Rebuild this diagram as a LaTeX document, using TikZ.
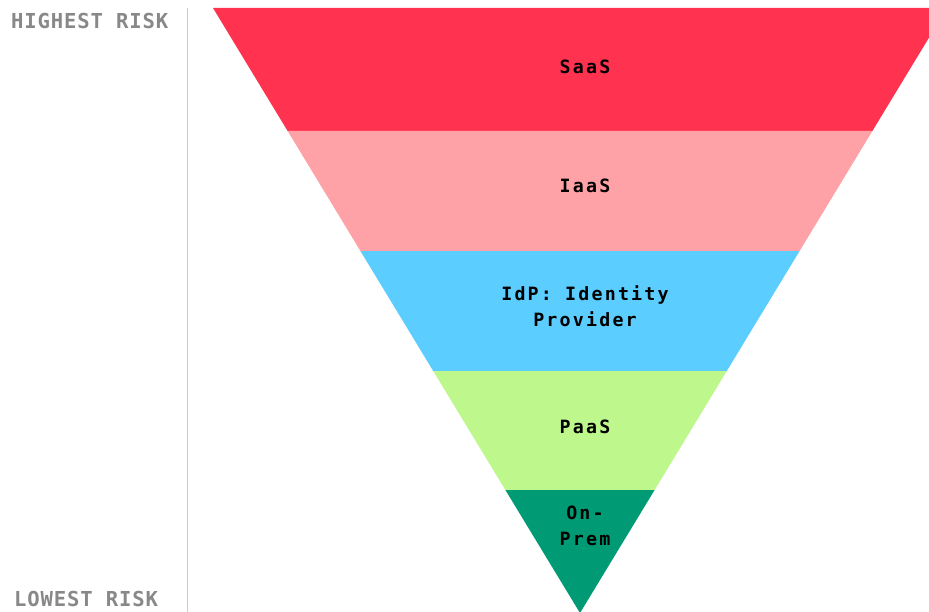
\documentclass[tikz,border=0pt]{standalone}
\usepackage{fontspec}
\usetikzlibrary{calc}
\newfontfamily\bandfont[LetterSpace=12]{DejaVu Sans Mono Bold}
\newfontfamily\sidefont[LetterSpace=4]{DejaVu Sans Mono Bold}
\definecolor{saas}{HTML}{FF334F}
\definecolor{iaas}{HTML}{FFA2A8}
\definecolor{idp}{HTML}{5BCDFF}
\definecolor{paas}{HTML}{BEF78B}
\definecolor{onprem}{HTML}{009B74}
\definecolor{sidegray}{HTML}{888888}
\definecolor{axisgray}{HTML}{CCCCCC}
\tikzset{
  bandlabel/.style={font=\bandfont\fontsize{18.3}{26}\selectfont, text=black, align=center, inner sep=0pt},
  sidelabel/.style={font=\sidefont\fontsize{20.6}{24}\selectfont, text=sidegray, inner sep=0pt, text depth=0pt},
}
\begin{document}
\begin{tikzpicture}[x=1pt,y=-1pt]
\useasboundingbox (0,0) rectangle (929,612);
\clip (0,0) rectangle (929,612);
\coordinate (tl) at (213,8);
\coordinate (tr) at (947,8);
\coordinate (ap) at (580,613);
\foreach \i/\t in {1/0.2033,2/0.4017,3/0.6,4/0.7967}{
  \coordinate (l\i) at ($(tl)!\t!(ap)$);
  \coordinate (r\i) at ($(tr)!\t!(ap)$);
}
\fill[saas] (tl) -- (tr) -- (r1) -- (l1) -- cycle;
\fill[iaas] (l1) -- (r1) -- (r2) -- (l2) -- cycle;
\fill[idp] (l2) -- (r2) -- (r3) -- (l3) -- cycle;
\fill[paas] (l3) -- (r3) -- (r4) -- (l4) -- cycle;
\fill[onprem] (l4) -- (r4) -- (ap) -- cycle;
\draw[axisgray, line width=1pt] (187,8) -- (187,612);
\node[bandlabel, anchor=base] (saasl) at (585,73.5) {SaaS};
\node[bandlabel, anchor=base] (iaasl) at (585,193) {IaaS};
\node[bandlabel] (idpl) at (585,306.5) {IdP: Identity\\Provider};
\node[bandlabel, anchor=base] (paasl) at (585,433) {PaaS};
\node[bandlabel] (onpreml) at (585,526.3) {On-\\Prem};
\node[sidelabel, anchor=base west] (high) at (11,28.5) {HIGHEST RISK};
\node[sidelabel, anchor=base west] (low) at (14,606) {LOWEST RISK};
\end{tikzpicture}
\end{document}
